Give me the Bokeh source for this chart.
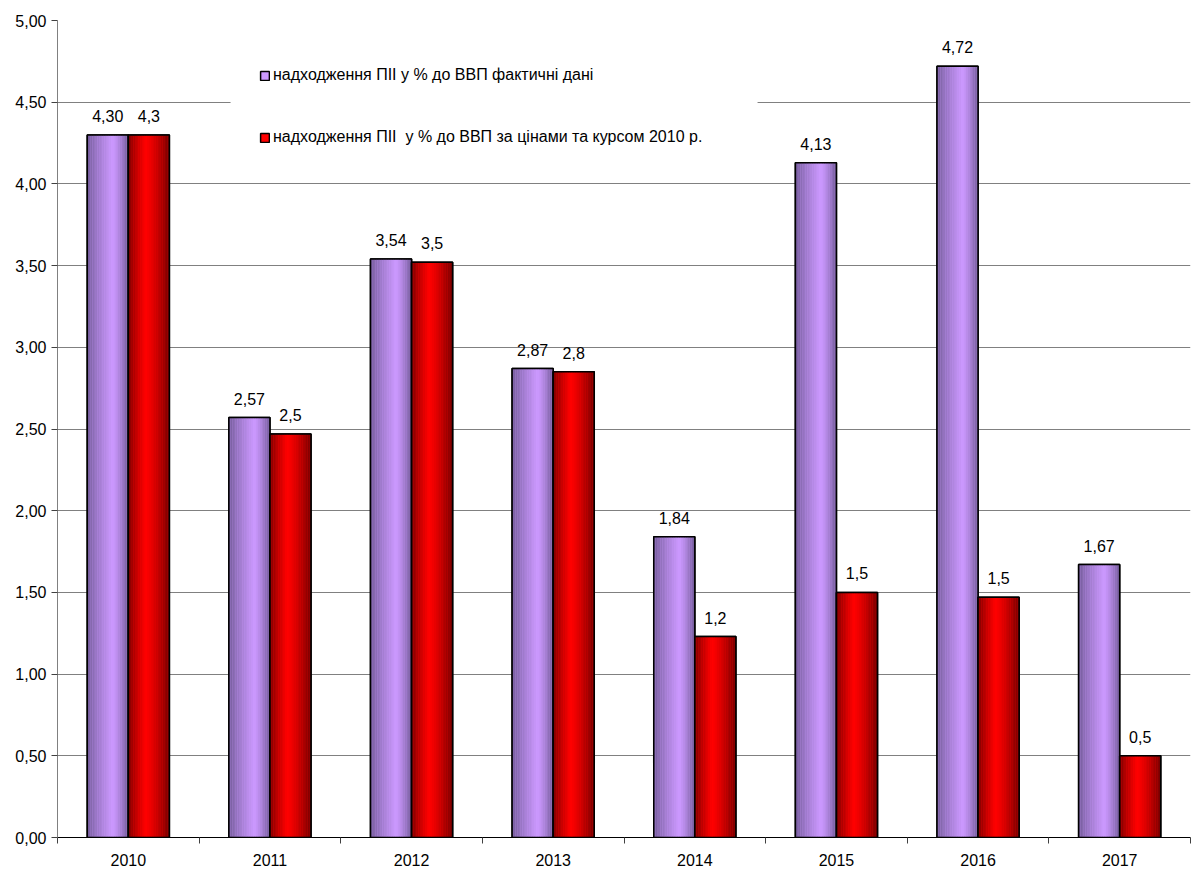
from bokeh.plotting import figure
from bokeh.models import (ColumnDataSource, Range1d, FixedTicker, Legend, LegendItem, BoxAnnotation)
from bokeh.transform import dodge
from bokeh.core.properties import value
from bokeh.embed import file_html
from bokeh.resources import INLINE

years = ["2010", "2011", "2012", "2013", "2014", "2015", "2016", "2017"]
actual = [4.30, 2.57, 3.54, 2.87, 1.84, 4.13, 4.72, 1.67]
actual_labels = ["4,30", "2,57", "3,54", "2,87", "1,84", "4,13", "4,72", "1,67"]
const_prices = [4.30, 2.47, 3.52, 2.85, 1.23, 1.50, 1.47, 0.50]
const_labels = ["4,3", "2,5", "3,5", "2,8", "1,2", "1,5", "1,5", "0,5"]
y_ticks = [0, 0.5, 1, 1.5, 2, 2.5, 3, 3.5, 4, 4.5, 5]
y_tick_labels = ["0,00", "0,50", "1,00", "1,50", "2,00", "2,50", "3,00", "3,50", "4,00", "4,50", "5,00"]
series_names = ["надходження ПІІ у % до ВВП фактичні дані",
                "надходження ПІІ  у % до ВВП за цінами та курсом 2010 р."]

FONT = "Liberation Sans"
FS = "16px"
idx = list(range(len(years)))
src = ColumnDataSource(dict(x=idx, a=actual, al=actual_labels, c=const_prices, cl=const_labels))

p = figure(width=1192, height=874, output_backend="svg", toolbar_location=None,
           x_range=Range1d(-0.5, len(years) - 0.5), y_range=Range1d(0, 5),
           min_border_left=57, min_border_right=2, min_border_top=20, min_border_bottom=37)
p.outline_line_color = None
p.background_fill_color = "white"

# axes
p.yaxis.ticker = FixedTicker(ticks=y_ticks)
p.yaxis.major_label_overrides = {t: l for t, l in zip(y_ticks, y_tick_labels)}
p.yaxis.axis_line_color = "#808080"
p.yaxis.major_tick_line_color = "#404040"
p.yaxis.major_tick_out = 6
p.yaxis.major_tick_in = 0
p.yaxis.minor_tick_line_color = None
p.yaxis.major_label_text_font = FONT
p.yaxis.major_label_text_font_size = FS
p.yaxis.major_label_text_color = "black"
p.yaxis.major_label_standoff = 5

p.xaxis.ticker = FixedTicker(ticks=idx, minor_ticks=[i - 0.5 for i in idx] + [len(years) - 0.5])
p.xaxis.major_label_overrides = {i: y for i, y in zip(idx, years)}
p.xaxis.major_tick_line_color = None
p.xaxis.minor_tick_line_color = "#404040"
p.xaxis.minor_tick_out = 6
p.xaxis.minor_tick_in = 0
p.xaxis.axis_line_color = "black"
p.xaxis.major_label_text_font = FONT
p.xaxis.major_label_text_font_size = FS
p.xaxis.major_label_text_color = "black"
p.xaxis.major_label_standoff = 10

p.xgrid.grid_line_color = None
p.ygrid.grid_line_color = "#808080"
p.ygrid.grid_line_width = 1

W = 0.29
N = 24

def lerp(c1, c2, t):
    return "#%02x%02x%02x" % tuple(int(round(a + (b - a) * t)) for a, b in zip(c1, c2))

def profile(t, peak):
    if t <= peak:
        return 0.15 + 0.85 * (t / peak) ** 0.8
    return 1.0 - 0.85 * ((t - peak) / (1 - peak)) ** 1.3

def draw_series(col, offset, dark, light, peak, base_color):
    base = p.vbar(x=dodge("x", offset, range=p.x_range), top=col, width=W, source=src,
                  fill_color=base_color, line_color="black", line_width=1.5)
    for i in range(N):
        t = (i + 0.5) / N
        off = offset - W / 2 + (i + 0.5) * W / N
        p.vbar(x=dodge("x", off, range=p.x_range), top=col, width=W / N * 1.05, source=src,
               fill_color=lerp(dark, light, profile(t, peak)), line_color=None)
    p.vbar(x=dodge("x", offset, range=p.x_range), top=col, width=W, source=src,
           fill_color=None, line_color="black", line_width=1.5)
    return base

r1 = draw_series("a", -W / 2, (95, 78, 130), (204, 153, 255), 0.62, "#CC99FF")
r2 = draw_series("c", W / 2, (90, 0, 0), (255, 0, 0), 0.42, "#FF0000")

# value labels
p.text(x=dodge("x", -W / 2, range=p.x_range), y="a", text="al", source=src,
       text_align="center", text_baseline="bottom", y_offset=-13,
       text_font=value(FONT), text_font_size=FS, text_color="black")
p.text(x=dodge("x", W / 2, range=p.x_range), y="c", text="cl", source=src,
       text_align="center", text_baseline="bottom", y_offset=-13,
       text_font=value(FONT), text_font_size=FS, text_color="black")

# white legend panel (covers gridlines behind the legend)
panel = BoxAnnotation(left=0.722, right=4.443, bottom=4.2, top=4.8,
                      fill_color="white", fill_alpha=1, line_color=None, level="underlay")
p.add_layout(panel)

legend = Legend(items=[LegendItem(label=series_names[0], renderers=[r1]),
                       LegendItem(label=series_names[1], renderers=[r2])],
                location=(202, 691), orientation="vertical")
legend.background_fill_alpha = 0
legend.border_line_color = None
legend.glyph_width = 11
legend.glyph_height = 11
legend.label_standoff = 3
legend.spacing = 44
legend.padding = 0
legend.margin = 0
legend.label_text_font = FONT
legend.label_text_font_size = "16px"
legend.label_text_color = "black"
legend.label_height = 16
p.add_layout(legend, "center")

open("out.html", "w").write(file_html(p, INLINE))
